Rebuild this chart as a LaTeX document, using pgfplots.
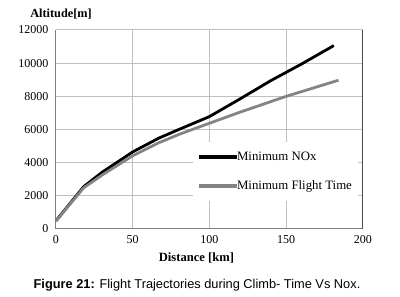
\documentclass[border=0pt]{standalone}
\usepackage{fontspec}
\setmainfont{Liberation Serif}
\newfontfamily\capfont{Liberation Sans}
\usepackage{pgfplots}
\pgfplotsset{compat=1.18}
\definecolor{gridc}{RGB}{192,192,192}
\definecolor{seriesgray}{RGB}{132,132,132}
\begin{document}
\begin{tikzpicture}[x=1pt,y=1pt]
\useasboundingbox (0,0) rectangle (400,297);
\begin{axis}[
  at={(56pt,68pt)}, anchor=south west,
  scale only axis, width=307pt, height=199pt,
  xmin=0, xmax=200, ymin=0, ymax=12000,
  xtick={0,50,100,150,200}, ytick={0,2000,4000,6000,8000,10000,12000},
  scaled y ticks=false,
  /pgf/number format/assume math mode=true,
  /pgf/number format/1000 sep={},
  ticklabel style={font=\fontsize{12}{14}\selectfont},
  xticklabel style={yshift=-3pt},
  yticklabel style={xshift=-4pt},
  major tick length=0pt,
  grid=major, grid style={gridc, line width=1pt},
  axis x line*=bottom, axis y line*=left,
  axis line style={gray, line width=1pt, -},
  legend style={at={(0.446,0.44)}, anchor=north west, draw=none, fill=white,
    font=\fontsize{12.8}{15}\selectfont, inner xsep=4pt, inner ysep=8pt,
    row sep=15pt},
  legend cell align=left,
  legend image code/.code={\draw[#1, line width=4pt] (0pt,0pt) -- (38pt,0pt);},
]
\addplot[black, line width=2.8pt] coordinates {
(0,500) (18,2550) (30,3420) (50,4650) (67,5480) (80,6000) (100,6780)
(120,7850) (140,8950) (160,9950) (181,11060)};
\addlegendentry{\hspace{-4pt}Minimum NOx}
\addplot[seriesgray, line width=2.8pt] coordinates {
(0,480) (18,2480) (30,3250) (50,4420) (67,5200) (80,5700) (100,6380)
(120,7050) (150,8000) (184,8970)};
\addlegendentry{\hspace{-4pt}Minimum Flight Time}
\draw[gray!60!black, line width=1pt] (rel axis cs:1,0) -- (rel axis cs:1,1);
\end{axis}
\node[font=\fontsize{12.3}{14}\selectfont\bfseries] at (61,283) {Altitude[m]};
\node[font=\fontsize{12.6}{14}\selectfont\bfseries] at (196.5,39) {Distance [km]};
\node[font=\capfont\fontsize{12.8}{15}\selectfont] at (197,12) {\textbf{Figure 21:} Flight Trajectories during Climb- Time Vs Nox.};
\end{tikzpicture}
\end{document}
